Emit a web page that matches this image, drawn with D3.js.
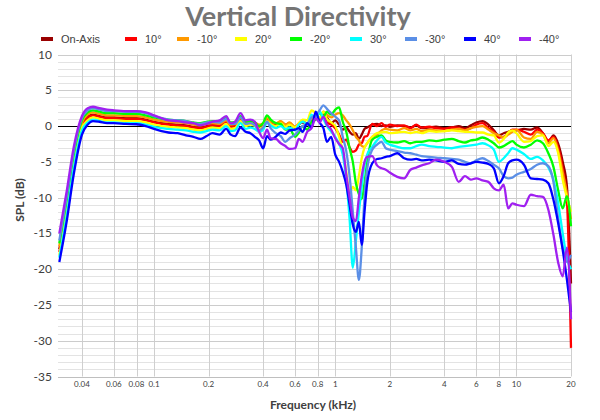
<!DOCTYPE html>
<html lang="en">
<head>
    <meta charset="UTF-8">
    <title>Vertical Directivity</title>
    <script src="https://cdn.jsdelivr.net/npm/d3@7"></script>
    <style>
        body { margin: 0; background: #fff; }
        .title { font-family: Lato, "Open Sans", sans-serif; font-weight: bold; font-size: 27px; fill: #757575; }
        .legend-text { font-family: "Liberation Sans", Arial, sans-serif; font-size: 11px; fill: #404040; }
        .ytick { font-family: Lato, sans-serif; font-size: 12px; fill: #404040; }
        .xtick { font-family: Lato, sans-serif; font-size: 8px; fill: #404040; }
        .axis-title { font-family: Lato, sans-serif; font-size: 12px; font-weight: bold; fill: #404040; }
    </style>
</head>
<body>
<svg width="600" height="420" id="chart"></svg>
<script>
// frequencies in kHz
const freqs = [0.03,0.033,0.036,0.04,0.043,0.046,0.05,0.055,0.06,0.07,
    0.08,0.09,0.1,0.11,0.12,0.135,0.15,0.165,0.18,0.195,
    0.21,0.23,0.25,0.265,0.28,0.3,0.32,0.34,0.36,0.38,
    0.4,0.42,0.44,0.47,0.5,0.53,0.56,0.6,0.63,0.66,
    0.7,0.74,0.78,0.82,0.86,0.9,0.95,1.0,1.05,1.1,
    1.15,1.2,1.25,1.3,1.35,1.4,1.45,1.5,1.6,1.7,
    1.8,1.9,2.0,2.2,2.4,2.6,2.8,3.0,3.3,3.6,
    4.0,4.4,4.8,5.2,5.6,6.0,6.5,7.0,7.5,8.0,
    8.5,9.0,9.5,10,11,12,13,14,15,16,
    17,18,19,20];

const onAxis = [-17.2,-11.0,-4.8,0.2,1.3,1.6,1.4,1.2,1.2,1.1,
    1.1,0.9,0.6,0.4,0.3,0.2,0.1,-0.1,-0.2,0.0,
    0.2,0.1,0.6,0.0,0.1,0.9,0.2,0.4,0.3,0.0,
    0.2,0.8,0.5,0.3,0.6,0.2,0.4,-0.2,0.3,0.5,
    0.2,0.8,1.2,0.8,1.8,1.2,0.4,0.8,0.2,-0.5,
    -0.2,-0.8,-1.2,-1.0,-1.8,-1.2,-0.4,-0.2,0.2,0.3,
    0.0,0.1,-0.1,0.1,0.0,-0.2,0.1,-0.3,-0.2,-0.1,
    -0.3,-0.2,0.0,-0.3,0.1,0.5,0.7,0.2,-0.6,-1.3,
    -1.0,-0.8,-0.6,-0.6,-0.4,-0.5,-0.2,-1.0,-2.2,-1.3,
    -2.5,-5.0,-8.5,-22.0];

const deg10 = [-17.6,-11.5,-5.2,0.0,1.1,1.5,1.3,1.1,1.1,1.0,
    1.0,0.8,0.5,0.3,0.2,0.1,0.0,-0.2,-0.3,-0.1,
    0.1,0.0,0.6,-0.1,0.0,0.9,0.2,0.4,0.2,-0.1,
    0.1,0.8,0.5,0.2,0.5,0.1,0.4,-0.3,0.2,0.6,
    0.3,1.0,1.4,0.9,1.5,0.5,0.2,-0.3,-1.2,-2.2,
    -1.9,-3.0,-3.6,-3.4,-2.6,-2.4,-1.5,-1.4,0.3,0.0,
    0.4,-0.1,0.2,0.0,0.1,-0.3,0.2,-0.2,-0.1,-0.3,
    -0.4,-0.2,-0.3,-0.5,-0.3,0.2,0.4,-0.3,-0.8,-1.6,
    -1.5,-1.0,-0.5,-0.5,-0.8,-1.2,-0.5,-1.0,-2.0,-1.5,
    -3.0,-6.0,-10.5,-31.0];

const degM10 = [-16.8,-10.5,-4.4,0.5,1.6,1.9,1.7,1.5,1.5,1.4,
    1.4,1.2,0.9,0.7,0.6,0.5,0.4,0.2,0.1,0.3,
    0.4,0.3,0.8,0.2,0.3,1.1,0.4,0.6,0.5,0.2,
    0.4,1.1,0.7,0.4,0.7,0.2,0.5,-0.1,0.4,0.7,
    0.4,1.0,1.5,1.0,2.0,1.6,1.2,1.6,1.8,1.5,
    0.8,0.2,-0.6,-1.5,-2.0,-2.8,-2.9,-2.4,-1.5,-1.2,
    -0.6,-0.4,-0.5,-0.6,-0.3,-0.6,-0.4,-0.7,-0.5,-0.6,
    -0.7,-0.5,-0.4,-0.6,-0.3,-0.1,0.0,-0.5,-1.0,-1.3,
    -1.6,-1.2,-0.8,-0.5,-1.6,-1.8,-0.8,-1.2,-2.4,-1.7,
    -3.5,-6.5,-9.5,-13.0];

const deg20 = [-18.0,-12.0,-5.6,-0.3,0.8,1.2,1.0,0.8,0.8,0.7,
    0.7,0.5,0.2,0.0,-0.1,-0.2,-0.3,-0.5,-0.6,-0.4,
    -0.2,-0.3,0.3,-0.4,-0.3,0.7,0.0,0.2,0.0,-0.4,
    -0.1,0.7,0.3,0.0,0.4,-0.1,0.2,-0.2,0.4,0.9,
    0.8,2.2,1.8,1.2,2.0,1.0,0.5,0.0,-1.5,-3.5,
    -6.4,-9.4,-8.5,-9.0,-7.0,-4.5,-3.0,-2.4,-1.5,-1.0,
    -0.9,-0.8,-1.0,-0.9,-0.8,-1.0,-0.8,-1.0,-0.7,-0.8,
    -0.7,-0.6,-0.7,-0.8,-0.8,-0.9,-0.9,-1.2,-1.3,-2.3,
    -1.8,-0.9,-0.6,-1.0,-2.2,-2.1,-1.4,-1.3,-2.8,-2.2,
    -3.8,-7.5,-10.0,-12.0];

const degM20 = [-16.4,-10.2,-4.0,0.8,1.9,2.2,2.0,1.8,1.8,1.7,
    1.7,1.5,1.2,1.0,0.9,0.8,0.7,0.5,0.4,0.6,
    0.7,0.6,1.1,0.5,0.6,1.4,0.6,0.7,0.5,0.0,
    0.4,1.5,0.9,0.4,0.3,-0.5,-0.4,-1.5,-0.9,0.0,
    -0.5,0.6,0.9,1.8,1.3,2.0,1.6,2.3,2.6,0.6,
    -0.8,-3.1,-5.0,-8.0,-9.5,-10.2,-8.0,-5.0,-1.9,-1.5,
    -1.3,-2.0,-2.2,-2.3,-2.1,-2.4,-2.2,-2.2,-2.0,-2.1,
    -1.9,-1.8,-2.1,-2.3,-2.0,-1.9,-1.6,-1.9,-2.4,-3.0,
    -2.8,-2.4,-2.1,-2.6,-3.0,-2.6,-2.0,-2.4,-3.8,-5.7,
    -9.0,-11.5,-9.8,-14.0];

const deg30 = [-18.4,-12.4,-6.0,-0.6,0.5,0.9,0.7,0.5,0.5,0.4,
    0.4,0.2,-0.1,-0.3,-0.4,-0.5,-0.6,-0.8,-0.9,-0.7,
    -0.5,-0.6,0.0,-0.7,-0.6,0.4,-0.4,-0.2,-0.4,-0.8,
    -0.5,0.5,0.1,-0.3,0.0,-0.4,-0.2,-0.6,0.2,0.6,
    0.3,1.6,1.0,2.0,1.0,0.0,-0.8,-1.5,-2.5,-4.0,
    -7.5,-13.0,-19.8,-16.0,-12.0,-8.5,-5.5,-4.0,-2.9,-2.0,
    -1.5,-2.3,-2.6,-2.9,-3.1,-3.1,-2.8,-2.6,-2.8,-2.9,
    -3.0,-3.1,-2.9,-2.8,-2.7,-2.6,-2.4,-2.7,-3.3,-5.0,
    -4.5,-3.8,-3.1,-3.3,-3.9,-4.6,-4.3,-4.8,-5.8,-7.5,
    -10.8,-15.0,-18.5,-20.0];

const degM30 = [-16.0,-9.8,-3.6,1.1,2.2,2.5,2.3,2.1,2.1,2.0,
    2.0,1.8,1.4,1.1,0.9,0.8,0.7,0.4,0.3,0.5,
    0.6,0.5,1.0,0.3,0.3,1.2,0.3,0.4,0.1,-0.6,
    -0.2,0.6,-0.3,-1.0,-1.4,-2.2,-1.7,-1.2,-0.6,0.0,
    0.2,1.2,1.5,2.2,2.9,2.4,1.8,1.3,0.8,-1.5,
    -3.5,-7.0,-12.0,-17.0,-21.5,-17.0,-10.0,-6.0,-3.3,-2.6,
    -2.2,-3.1,-3.3,-3.5,-3.7,-3.8,-4.0,-4.2,-4.3,-4.4,
    -4.5,-4.6,-4.7,-5.0,-5.2,-4.8,-4.5,-4.9,-5.4,-5.9,
    -7.0,-7.3,-7.2,-6.8,-6.4,-6.0,-5.4,-5.2,-5.6,-7.8,
    -13.0,-17.0,-19.0,-18.0];

const deg40 = [-19.0,-13.2,-6.8,-1.2,0.2,0.7,0.6,0.4,0.4,0.3,
    0.25,0.0,-0.4,-0.7,-0.9,-1.0,-1.3,-1.5,-1.8,-1.4,
    -1.0,-1.2,-0.4,-1.2,-1.4,-0.2,-0.8,-1.0,-1.5,-2.0,
    -3.1,-1.4,-1.9,-1.5,-0.9,-1.1,-0.6,-0.5,-0.3,-0.8,
    0.4,-0.2,2.0,0.5,-0.3,-2.2,-1.5,-4.0,-5.0,-6.4,
    -8.2,-11.0,-13.8,-14.8,-13.4,-16.6,-12.0,-8.0,-5.2,-4.6,
    -4.5,-4.3,-4.2,-3.8,-4.5,-4.7,-4.6,-4.8,-4.7,-4.8,
    -5.0,-4.8,-5.3,-5.4,-5.2,-5.0,-5.1,-5.3,-5.9,-8.0,
    -7.0,-5.2,-4.8,-4.7,-5.4,-7.3,-7.4,-7.5,-8.0,-10.3,
    -13.6,-17.3,-21.5,-26.0];

const degM40 = [-15.0,-9.0,-3.0,1.4,2.5,2.7,2.5,2.3,2.2,2.1,
    2.1,1.9,1.5,1.1,0.8,0.7,0.5,0.4,0.1,0.3,
    0.6,0.8,1.4,0.4,0.6,1.8,0.8,0.9,0.6,-0.8,
    -1.7,-0.5,-1.7,-1.8,-2.4,-2.8,-3.2,-3.1,-1.8,-2.2,
    -0.8,-0.3,1.1,0.5,1.3,0.2,-0.5,-1.7,-2.5,-3.1,
    -6.8,-10.0,-12.8,-13.3,-10.0,-7.0,-5.0,-4.3,-4.2,-5.5,
    -5.9,-6.1,-6.5,-7.1,-7.3,-6.1,-5.8,-5.5,-5.2,-4.7,
    -5.0,-5.7,-7.8,-7.0,-7.5,-7.3,-7.6,-7.8,-8.7,-9.0,
    -8.2,-11.5,-10.8,-11.0,-11.2,-9.6,-9.8,-9.9,-11.7,-15.2,
    -19.1,-21.0,-17.0,-27.0];

const seriesNames = ["On-Axis", "10°", "-10°", "20°", "-20°", "30°", "-30°", "40°", "-40°"];
const seriesValues = [onAxis, deg10, degM10, deg20, degM20, deg30, degM30, deg40, degM40];
const seriesColors = ["#990000", "#ff0000", "#ff9900", "#ffff00", "#00ff00", "#00ffff", "#5b8fe6", "#0000ff", "#a020f0"];

const xTicks = [0.04, 0.06, 0.08, 0.1, 0.2, 0.4, 0.6, 0.8, 1, 2, 4, 6, 8, 10, 20];
const yTicks = [10, 5, 0, -5, -10, -15, -20, -25, -30, -35];

const svg = d3.select("#chart"),
      width = +svg.attr("width"),
      height = +svg.attr("height");

const plot = {left: 58, right: 571, top: 54.5, bottom: 376.5};

const x = d3.scaleLog().domain([0.0295, 20]).range([plot.left, plot.right]);
const y = d3.scaleLinear().domain([-35, 10]).range([plot.bottom, plot.top]);

svg.append("rect").attr("width", width).attr("height", height).attr("fill", "#fff");

// title
svg.append("text")
    .attr("class", "title")
    .attr("x", 298)
    .attr("y", 26)
    .attr("text-anchor", "middle")
    .text("Vertical Directivity");

// legend
const legendX = [41, 125, 177, 235, 290, 350, 405, 464, 519];
const legend = svg.selectAll(".legend")
    .data(seriesNames)
    .enter().append("g")
    .attr("class", "legend")
    .attr("transform", (d, i) => `translate(${legendX[i]}, 39)`);

legend.append("rect")
    .attr("x", 0)
    .attr("y", -2)
    .attr("width", 12)
    .attr("height", 4)
    .attr("fill", (d, i) => seriesColors[i]);

legend.append("text")
    .attr("class", "legend-text")
    .attr("x", 20)
    .attr("y", 4)
    .text(d => d);

// gridlines
const grid = svg.append("g");
d3.range(-35, 11).forEach(v => {
    if (v % 5 === 0) return;
    grid.append("line")
        .attr("x1", plot.left).attr("x2", plot.right)
        .attr("y1", Math.round(y(v)) + 0.5).attr("y2", Math.round(y(v)) + 0.5)
        .attr("stroke", "#e3e3e3");
});
xTicks.forEach(v => {
    grid.append("line")
        .attr("x1", Math.round(x(v)) + 0.5).attr("x2", Math.round(x(v)) + 0.5)
        .attr("y1", plot.top).attr("y2", plot.bottom)
        .attr("stroke", "#cfcfcf");
});
yTicks.forEach(v => {
    grid.append("line")
        .attr("x1", plot.left).attr("x2", plot.right)
        .attr("y1", Math.round(y(v)) + 0.5).attr("y2", Math.round(y(v)) + 0.5)
        .attr("stroke", v === -35 ? "#bfbfbf" : "#cccccc");
});

// zero line
svg.append("line")
    .attr("x1", plot.left).attr("x2", plot.right)
    .attr("y1", Math.round(y(0)) + 0.5).attr("y2", Math.round(y(0)) + 0.5)
    .attr("stroke", "#000")
    .attr("stroke-width", 1.2);

// y tick labels
svg.selectAll(".ytick")
    .data(yTicks)
    .enter().append("text")
    .attr("class", "ytick")
    .attr("x", 52)
    .attr("y", d => y(d) + 4)
    .attr("text-anchor", "end")
    .text(d => d);

// x tick labels
svg.selectAll(".xtick")
    .data(xTicks)
    .enter().append("text")
    .attr("class", "xtick")
    .attr("x", d => x(d))
    .attr("y", 387)
    .attr("text-anchor", "middle")
    .text(d => d);

// axis titles
svg.append("text")
    .attr("class", "axis-title")
    .attr("x", 313)
    .attr("y", 409)
    .attr("text-anchor", "middle")
    .text("Frequency (kHz)");

svg.append("text")
    .attr("class", "axis-title")
    .attr("transform", "rotate(-90)")
    .attr("x", -200)
    .attr("y", 24)
    .attr("text-anchor", "middle")
    .text("SPL (dB)");

// series
const line = d3.line()
    .x(d => x(d[0]))
    .y(d => y(d[1]))
    .curve(d3.curveMonotoneX);

seriesValues.forEach((vals, i) => {
    svg.append("path")
        .datum(freqs.map((f, j) => [f, vals[j]]))
        .attr("fill", "none")
        .attr("stroke", seriesColors[i])
        .attr("stroke-width", 2.3)
        .attr("stroke-linejoin", "round")
        .attr("d", line);
});
</script>
</body>
</html>
